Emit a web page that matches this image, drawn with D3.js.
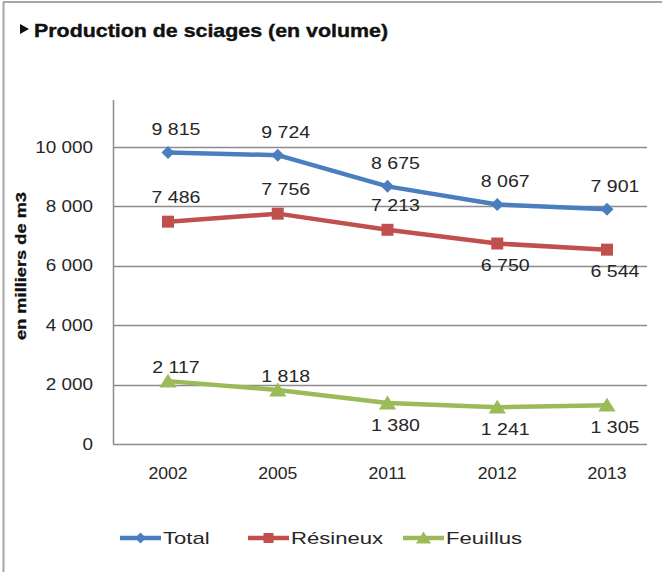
<!DOCTYPE html>
<html><head><meta charset="utf-8">
<script src="https://cdn.jsdelivr.net/npm/d3@7"></script>
<style>
html,body{margin:0;padding:0;background:#fff;}
svg{display:block;}
text{font-family:"Liberation Sans",Arial,sans-serif;}
</style></head>
<body>
<script>
// ---- data ----
const years = ["2002", "2005", "2011", "2012", "2013"];
const total = [9815, 9724, 8675, 8067, 7901];
const resineux = [7486, 7756, 7213, 6750, 6544];
const feuillus = [2117, 1818, 1380, 1241, 1305];
const yTicks = [0, 2000, 4000, 6000, 8000, 10000];
const seriesNames = ["Total", "Résineux", "Feuillus"];
const title = "Production de sciages (en volume)";
const yTitle = "en milliers de m3";
// label placement (above/below the point)
const totalLabelPos = ["above", "above", "above", "above", "above"];
const resineuxLabelPos = ["above", "above", "above", "below", "below"];
const feuillusLabelPos = ["above", "above", "below", "below", "below"];

const W = 662, H = 572;
const svg = d3.select("body").append("svg").attr("width", W).attr("height", H);

// stretch text glyphs horizontally (reference rendering is wide)
function stretch(sel, f) {
  sel.each(function() {
    const w = this.getComputedTextLength();
    d3.select(this).attr("textLength", w * f).attr("lengthAdjust", "spacingAndGlyphs");
  });
}

// frame
svg.append("line").attr("x1", 3).attr("x2", W).attr("y1", 2).attr("y2", 2)
  .attr("stroke", "#a6a6a6").attr("stroke-width", 2);
svg.append("line").attr("x1", 3.5).attr("x2", 3.5).attr("y1", 2).attr("y2", H)
  .attr("stroke", "#a6a6a6").attr("stroke-width", 2);

// title
svg.append("path").attr("d", "M20,24 L29,29 L20,34 Z").attr("fill", "#111");
svg.append("text").attr("x", 34).attr("y", 37).text(title)
  .attr("font-weight", "bold").attr("font-size", 19).attr("fill", "#111")
  .attr("stroke", "#111").attr("stroke-width", 0.4)
  .attr("textLength", 354).attr("lengthAdjust", "spacingAndGlyphs");

// scales
const plotLeft = 113, plotRight = 647, plotTop = 100, plotBottom = 444;
const x = d3.scalePoint().domain(years).range([168, 607]);
const y = d3.scaleLinear().domain([0, 10000]).range([plotBottom, 147]);

const fmt = v => d3.format(",")(v).replace(/,/g, " ");

// gridlines
svg.append("g").selectAll("line").data(yTicks).join("line")
  .attr("x1", plotLeft).attr("x2", plotRight)
  .attr("y1", d => Math.round(y(d)) + 0.5).attr("y2", d => Math.round(y(d)) + 0.5)
  .attr("stroke", "#8c8c8c").attr("stroke-width", 1.5);
// y axis line
svg.append("line").attr("x1", plotLeft + 0.5).attr("x2", plotLeft + 0.5)
  .attr("y1", plotTop).attr("y2", plotBottom)
  .attr("stroke", "#8c8c8c").attr("stroke-width", 1.5);

// y tick labels
svg.append("g").selectAll("text").data(yTicks).join("text")
  .attr("x", 93).attr("y", d => y(d)).attr("dy", "0.35em")
  .attr("text-anchor", "end").attr("font-size", 16)
  .attr("fill", "#262626").text(d => fmt(d))
  .call(stretch, 1.18);

// x labels
svg.append("g").selectAll("text").data(years).join("text")
  .attr("x", d => x(d)).attr("y", 473).attr("dy", "0.35em")
  .attr("text-anchor", "middle").attr("font-size", 16)
  .attr("fill", "#262626").text(d => d)
  .call(stretch, 1.1);

// y title
svg.append("text").attr("transform", "translate(26,266) rotate(-90)")
  .attr("text-anchor", "middle").attr("font-weight", "bold").attr("font-size", 14)
  .attr("fill", "#111").attr("stroke", "#111").attr("stroke-width", 0.3)
  .attr("textLength", 148).attr("lengthAdjust", "spacingAndGlyphs")
  .text(yTitle);

const colors = ["#4a7ebf", "#c0504d", "#9bbb59"];
const series = [
  {name: seriesNames[0], values: total, pos: totalLabelPos, color: colors[0], marker: "diamond", above: -23, below: 22},
  {name: seriesNames[1], values: resineux, pos: resineuxLabelPos, color: colors[1], marker: "square", above: -24, below: 22},
  {name: seriesNames[2], values: feuillus, pos: feuillusLabelPos, color: colors[2], marker: "triangle", above: -14, below: 22}
];

function markerPath(type, s) {
  if (type === "diamond") return `M0,${-s} L${s},0 L0,${s} L${-s},0 Z`;
  if (type === "square") return `M${-s},${-s} H${s} V${s} H${-s} Z`;
  return `M0,${-s} L${s*1.15},${s*0.85} L${-s*1.15},${s*0.85} Z`;
}
const markerSize = {diamond: 6.5, square: 6, triangle: 7.5};

const line = d3.line().x((d, i) => x(years[i])).y(d => y(d));

series.forEach(s => {
  const g = svg.append("g");
  g.append("path").datum(s.values).attr("d", line)
    .attr("fill", "none").attr("stroke", s.color).attr("stroke-width", 4.5)
    .attr("stroke-linejoin", "round");
  g.selectAll("path.m").data(s.values).join("path").attr("class", "m")
    .attr("transform", (d, i) => `translate(${x(years[i])},${y(d)})`)
    .attr("d", markerPath(s.marker, markerSize[s.marker])).attr("fill", s.color);
  g.selectAll("text").data(s.values).join("text")
    .attr("x", (d, i) => x(years[i]) + 8)
    .attr("y", (d, i) => y(d) + (s.pos[i] === "above" ? s.above : s.below))
    .attr("dy", "0.35em").attr("text-anchor", "middle")
    .attr("font-size", 16).attr("fill", "#262626")
    .text(d => fmt(d))
    .call(stretch, 1.22);
});

// legend
const legX = [120, 248, 403];
const legY = 538;
series.forEach((s, i) => {
  const g = svg.append("g").attr("transform", `translate(${legX[i]},${legY})`);
  g.append("line").attr("x1", 0).attr("x2", 41).attr("stroke", s.color).attr("stroke-width", 4.5);
  g.append("path").attr("transform", "translate(20.5,0)")
    .attr("d", markerPath(s.marker, markerSize[s.marker] - 1)).attr("fill", s.color);
  g.append("text").attr("x", 43).attr("dy", "0.35em").attr("font-size", 17)
    .attr("fill", "#262626").text(s.name)
    .call(stretch, 1.3);
});
</script>
</body></html>
